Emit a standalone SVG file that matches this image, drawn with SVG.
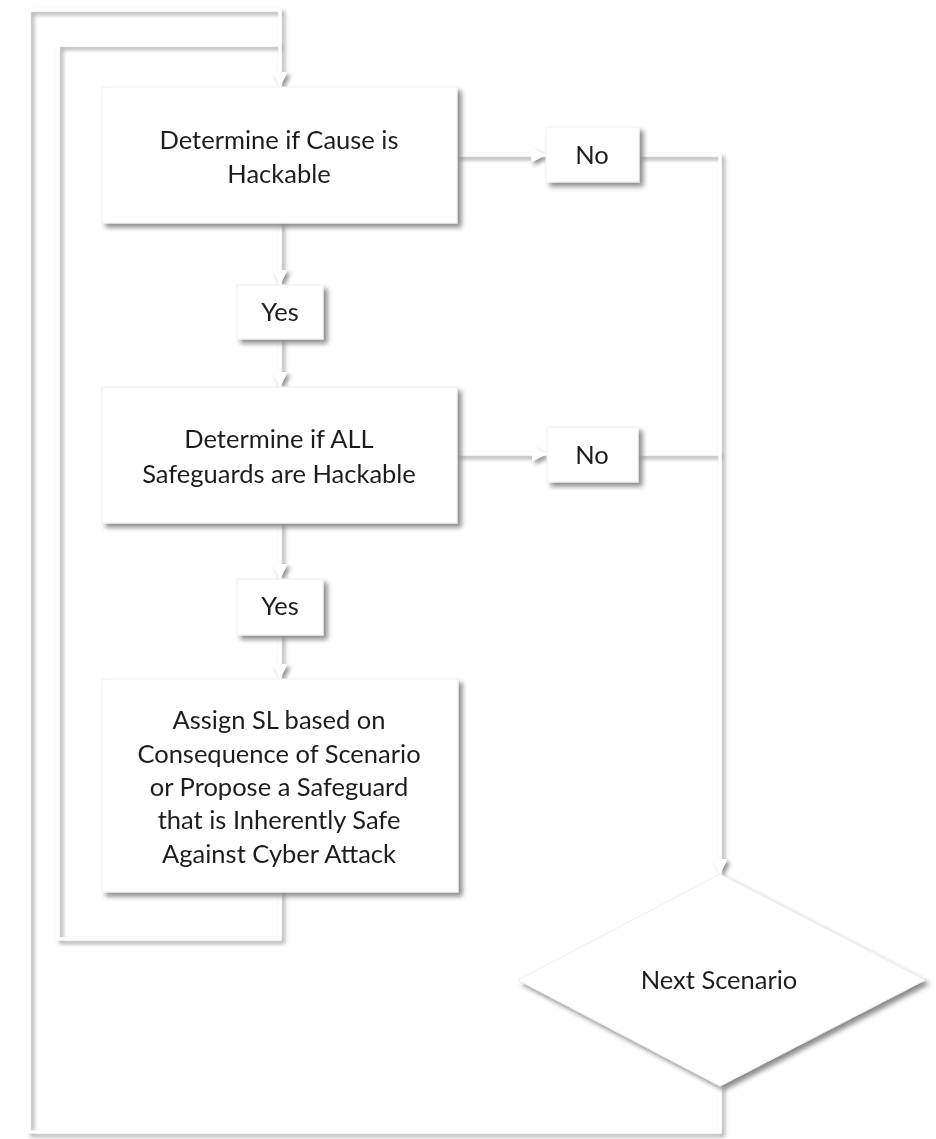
<svg xmlns="http://www.w3.org/2000/svg" width="936" height="1139" viewBox="0 0 936 1139">
  <defs>
    <filter id="lineShadow" filterUnits="userSpaceOnUse" x="0" y="0" width="936" height="1139">
      <feDropShadow dx="3" dy="3" stdDeviation="2.2" flood-color="#000" flood-opacity="0.42"/>
    </filter>
    <filter id="boxShadow" filterUnits="userSpaceOnUse" x="0" y="0" width="936" height="1139">
      <feDropShadow dx="4" dy="4" stdDeviation="2.5" flood-color="#000" flood-opacity="0.45"/>
    </filter>
    <marker id="arrow" viewBox="0 0 15 15" refX="15" refY="7.5" markerWidth="15" markerHeight="15" markerUnits="userSpaceOnUse" orient="auto">
      <path d="M0,0 L15,7.5 L0,15 Z" fill="#ffffff"/>
    </marker>
    <style>
      .conn { fill: none; stroke: #ffffff; stroke-width: 3; }
      .box { fill: #ffffff; stroke: #efefef; stroke-width: 1; }
      .lbl { font-family: Lato, "Open Sans", sans-serif; font-size: 25.5px; fill: #1e1e1e; text-anchor: middle; }
    </style>
  </defs>
  <rect x="0" y="0" width="936" height="1139" fill="#ffffff"/>

  <g id="connectors" filter="url(#lineShadow)">
    <path class="conn" d="M720,1086 V1132 H29 V10 H280 V87" marker-end="url(#arrow)"/>
    <path class="conn" d="M280,892 V939 H58 V45 H280"/>
    <path class="conn" d="M280,223 V285" marker-end="url(#arrow)"/>
    <path class="conn" d="M280,339 V387" marker-end="url(#arrow)"/>
    <path class="conn" d="M280,523 V579" marker-end="url(#arrow)"/>
    <path class="conn" d="M280,635 V679" marker-end="url(#arrow)"/>
    <path class="conn" d="M457,155 H546" marker-end="url(#arrow)"/>
    <path class="conn" d="M639,155 H720 V874" marker-end="url(#arrow)"/>
    <path class="conn" d="M457,454 H547" marker-end="url(#arrow)"/>
    <path class="conn" d="M638,454 H720"/>
  </g>

  <g id="node-cause" filter="url(#boxShadow)">
    <rect class="box" x="102" y="87" width="355" height="136"/>
    <text class="lbl" x="279" y="149">Determine if Cause is</text>
    <text class="lbl" x="279" y="183">Hackable</text>
  </g>

  <g id="node-no1" filter="url(#boxShadow)">
    <rect class="box" x="546" y="127" width="93" height="55"/>
    <text class="lbl" x="592" y="164">No</text>
  </g>

  <g id="node-yes1" filter="url(#boxShadow)">
    <rect class="box" x="237" y="285" width="86" height="54"/>
    <text class="lbl" x="280" y="321">Yes</text>
  </g>

  <g id="node-safeguards" filter="url(#boxShadow)">
    <rect class="box" x="102" y="387" width="355" height="136"/>
    <text class="lbl" x="279" y="448">Determine if ALL</text>
    <text class="lbl" x="279" y="483">Safeguards are Hackable</text>
  </g>

  <g id="node-no2" filter="url(#boxShadow)">
    <rect class="box" x="547" y="427" width="91" height="55"/>
    <text class="lbl" x="592" y="464">No</text>
  </g>

  <g id="node-yes2" filter="url(#boxShadow)">
    <rect class="box" x="237" y="579" width="86" height="56"/>
    <text class="lbl" x="280" y="615">Yes</text>
  </g>

  <g id="node-assign" filter="url(#boxShadow)">
    <rect class="box" x="102" y="679" width="356" height="213"/>
    <text class="lbl" x="279" y="729">Assign SL based on</text>
    <text class="lbl" x="279" y="763">Consequence of Scenario</text>
    <text class="lbl" x="279" y="796">or Propose a Safeguard</text>
    <text class="lbl" x="279" y="829">that is Inherently Safe</text>
    <text class="lbl" x="279" y="863">Against Cyber Attack</text>
  </g>

  <g id="node-next" filter="url(#boxShadow)">
    <polygon class="box" points="720,874 925,980 720,1086 518,980"/>
    <text class="lbl" x="719" y="989">Next Scenario</text>
  </g>
</svg>
